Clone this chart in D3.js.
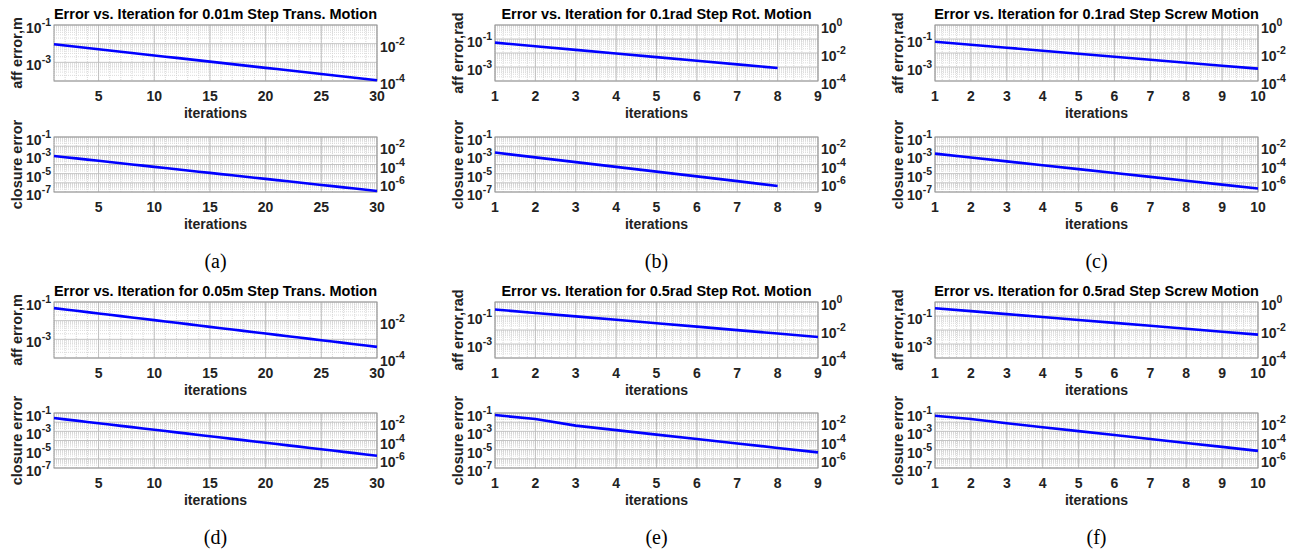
<!DOCTYPE html>
<html>
<head>
<meta charset="utf-8">
<script src="https://cdn.jsdelivr.net/npm/d3@7"></script>
<style>
  body { margin: 0; background: #fff; }
  text { font-family: "Liberation Sans", Arial, Helvetica, sans-serif; }
</style>
</head>
<body>
<div id="chart"></div>
<script>
// titles / labels for the six panels (a)-(f)
const titles = [
  "Error vs. Iteration for 0.01m Step Trans. Motion",
  "Error vs. Iteration for 0.1rad Step Rot. Motion",
  "Error vs. Iteration for 0.1rad Step Screw Motion",
  "Error vs. Iteration for 0.05m Step Trans. Motion",
  "Error vs. Iteration for 0.5rad Step Rot. Motion",
  "Error vs. Iteration for 0.5rad Step Screw Motion"
];
const affLabels = ["aff error,m", "aff error,rad", "aff error,rad", "aff error,m", "aff error,rad", "aff error,rad"];
const closLabel = "closure error";
const xLabel = "iterations";
const captions = ["(a)", "(b)", "(c)", "(d)", "(e)", "(f)"];

// x axes per column
const xDomains = [[1, 30], [1, 9], [1, 10]];
const xTicksTrans = [5, 10, 15, 20, 25, 30];
const xTicksRot = [1, 2, 3, 4, 5, 6, 7, 8, 9];
const xTicksScrew = [1, 2, 3, 4, 5, 6, 7, 8, 9, 10];
const xMinorSteps = [1, 0.2, 0.2];

// y axes (log)
const affDomainM = [1e-4, 1e-1];
const affDomainRad = [1e-4, 1];
const closDomain = [1e-7, 1e-1];
const affLeftTicks = [-1, -3];
const affRightTicksM = [-2, -4];
const affRightTicksRad = [0, -2, -4];
const closLeftTicks = [-1, -3, -5, -7];
const closRightTicks = [-2, -4, -6];

// error values per iteration
const affA = [9.3e-3, 7.98e-3, 6.85e-3, 5.88e-3, 5.04e-3, 4.33e-3, 3.71e-3, 3.18e-3, 2.73e-3, 2.34e-3,
  2.01e-3, 1.73e-3, 1.48e-3, 1.27e-3, 1.09e-3, 9.35e-4, 8.02e-4, 6.88e-4, 5.91e-4, 5.07e-4,
  4.35e-4, 3.73e-4, 3.20e-4, 2.75e-4, 2.36e-4, 2.02e-4, 1.73e-4, 1.49e-4, 1.28e-4, 1.10e-4];
const closA = [8.5e-4, 6.28e-4, 4.64e-4, 3.42e-4, 2.53e-4, 1.87e-4, 1.38e-4, 1.02e-4, 7.52e-5, 5.55e-5,
  4.10e-5, 3.03e-5, 2.24e-5, 1.65e-5, 1.22e-5, 9.0e-6, 6.65e-6, 4.91e-6, 3.63e-6, 2.68e-6,
  1.98e-6, 1.46e-6, 1.08e-6, 7.97e-7, 5.89e-7, 4.35e-7, 3.21e-7, 2.37e-7, 1.75e-7, 1.29e-7];
const affB = [0.055, 0.0303, 0.0167, 9.2e-3, 5.07e-3, 2.79e-3, 1.54e-3, 8.5e-4];
const closB = [2.0e-3, 6.04e-4, 1.82e-4, 5.51e-5, 1.66e-5, 5.02e-6, 1.52e-6, 4.58e-7];
const affC = [0.064, 0.0391, 0.0239, 0.0146, 8.92e-3, 5.45e-3, 3.33e-3, 2.03e-3, 1.24e-3, 7.6e-4];
const closC = [1.55e-3, 5.85e-4, 2.2e-4, 8.3e-5, 3.14e-5, 1.18e-5, 4.46e-6, 1.68e-6, 6.34e-7, 2.39e-7];
const affD = [0.047, 0.0399, 0.0338, 0.0287, 0.0243, 0.0206, 0.0175, 0.0148, 0.0126, 0.0107,
  9.04e-3, 7.66e-3, 6.50e-3, 5.51e-3, 4.67e-3, 3.96e-3, 3.36e-3, 2.85e-3, 2.42e-3, 2.05e-3,
  1.74e-3, 1.47e-3, 1.25e-3, 1.06e-3, 8.99e-4, 7.62e-4, 6.46e-4, 5.48e-4, 4.65e-4, 3.94e-4];
const closD = [0.028, 0.0202, 0.0146, 0.0105, 7.59e-3, 5.47e-3, 3.95e-3, 2.85e-3, 2.06e-3, 1.48e-3,
  1.07e-3, 7.72e-4, 5.57e-4, 4.02e-4, 2.90e-4, 2.09e-4, 1.51e-4, 1.09e-4, 7.86e-5, 5.67e-5,
  4.09e-5, 2.95e-5, 2.13e-5, 1.54e-5, 1.11e-5, 8.0e-6, 5.77e-6, 4.17e-6, 3.01e-6, 2.17e-6];
const affE = [0.29, 0.165, 0.0939, 0.0534, 0.0304, 0.0173, 9.84e-3, 5.6e-3, 3.19e-3];
const closE = [0.06, 0.022, 4.2e-3, 1.36e-3, 4.4e-4, 1.45e-4, 4.8e-5, 1.55e-5, 5.1e-6];
const affF = [0.36, 0.222, 0.137, 0.0846, 0.0522, 0.0322, 0.0199, 0.0123, 7.57e-3, 4.67e-3];
const closF = [0.051, 0.022, 7.6e-3, 2.8e-3, 1.05e-3, 3.9e-4, 1.45e-4, 5.4e-5, 2.0e-5, 7.4e-6];

// layout
const W = 1299, H = 555;
const colLeft = [54, 495, 935];
const plotW = 323;
const affTop = [25, 302], affH = 56;
const closTop = [137, 413], closH = 55;

const svg = d3.select("#chart").append("svg")
  .attr("width", W).attr("height", H);

const txtColor = "#222";

function addPow(sel, e) {
  sel.append("tspan").text("10");
  sel.append("tspan").attr("dy", -7).attr("font-size", 10.5).text(e);
}

function drawSubplot(opt) {
  const x = d3.scaleLinear().domain(opt.xDomain).range([opt.left, opt.left + plotW]);
  const y = d3.scaleLog().domain(opt.yDomain).range([opt.top + opt.h, opt.top]);
  const g = svg.append("g");

  // minor grid
  const minorX = [];
  for (let v = opt.xDomain[0]; v <= opt.xDomain[1] + 1e-9; v += opt.xMinor) minorX.push(+v.toFixed(3));
  g.append("g").selectAll("line").data(minorX).join("line")
    .attr("x1", d => x(d)).attr("x2", d => x(d))
    .attr("y1", opt.top).attr("y2", opt.top + opt.h)
    .attr("stroke", "#cfcfcf").attr("stroke-width", 0.8).attr("stroke-dasharray", "1,1");

  const lo = Math.log10(opt.yDomain[0]), hi = Math.log10(opt.yDomain[1]);
  const minorY = [];
  for (let d = Math.floor(lo); d < Math.ceil(hi); d++) {
    for (let m = 2; m <= 9; m++) {
      const v = m * Math.pow(10, d);
      if (v > opt.yDomain[0] && v < opt.yDomain[1]) minorY.push(v);
    }
  }
  g.append("g").selectAll("line").data(minorY).join("line")
    .attr("x1", opt.left).attr("x2", opt.left + plotW)
    .attr("y1", d => y(d)).attr("y2", d => y(d))
    .attr("stroke", "#d2d2d2").attr("stroke-width", 0.8).attr("stroke-dasharray", "1,1");

  // major grid
  const majorY = d3.range(Math.ceil(lo), Math.floor(hi) + 1).map(e => Math.pow(10, e));
  g.append("g").selectAll("line").data(majorY).join("line")
    .attr("x1", opt.left).attr("x2", opt.left + plotW)
    .attr("y1", d => y(d)).attr("y2", d => y(d))
    .attr("stroke", "#bdbdbd").attr("stroke-width", 0.9);
  g.append("g").selectAll("line").data(opt.xTicks).join("line")
    .attr("x1", d => x(d)).attr("x2", d => x(d))
    .attr("y1", opt.top).attr("y2", opt.top + opt.h)
    .attr("stroke", "#bdbdbd").attr("stroke-width", 0.9);

  // box
  g.append("rect")
    .attr("x", opt.left).attr("y", opt.top)
    .attr("width", plotW).attr("height", opt.h)
    .attr("fill", "none").attr("stroke", "#999").attr("stroke-width", 1);

  // data line
  const line = d3.line().x((d, i) => x(i + 1)).y(d => y(d));
  g.append("path").datum(opt.values)
    .attr("d", line)
    .attr("fill", "none")
    .attr("stroke", "#0000ff")
    .attr("stroke-width", 2.6);

  // x tick labels
  g.append("g").selectAll("text").data(opt.xTicks).join("text")
    .attr("x", d => x(d)).attr("y", opt.top + opt.h + 19.5)
    .attr("text-anchor", "middle")
    .attr("font-size", 14).attr("font-weight", "bold").attr("fill", txtColor)
    .text(d => d);

  // x label
  g.append("text")
    .attr("x", opt.left + plotW / 2).attr("y", opt.top + opt.h + 37)
    .attr("text-anchor", "middle")
    .attr("font-size", 14).attr("font-weight", "bold").attr("fill", txtColor)
    .text(xLabel);

  // left / right y tick labels
  opt.leftTicks.forEach(e => {
    const t = g.append("text")
      .attr("x", opt.left - 3).attr("y", y(Math.pow(10, e)) + 8)
      .attr("text-anchor", "end")
      .attr("font-size", 14).attr("font-weight", "bold").attr("fill", txtColor);
    addPow(t, e);
  });
  opt.rightTicks.forEach(e => {
    const t = g.append("text")
      .attr("x", opt.left + plotW + 3).attr("y", y(Math.pow(10, e)) + 8)
      .attr("text-anchor", "start")
      .attr("font-size", 14).attr("font-weight", "bold").attr("fill", txtColor);
    addPow(t, e);
  });

  // y label
  g.append("text")
    .attr("transform", `translate(${opt.left - 32.5},${opt.top + opt.h / 2}) rotate(-90)`)
    .attr("text-anchor", "middle")
    .attr("font-size", 14.5).attr("font-weight", "bold").attr("fill", txtColor)
    .text(opt.yLabel);

  // title
  if (opt.title) {
    g.append("text")
      .attr("x", opt.left + plotW / 2).attr("y", opt.top - 6)
      .attr("text-anchor", "middle")
      .attr("font-size", 14.5).attr("font-weight", "bold").attr("fill", "#000")
      .text(opt.title);
  }
}

const affData = [affA, affB, affC, affD, affE, affF];
const closData = [closA, closB, closC, closD, closE, closF];
const xTickSets = [xTicksTrans, xTicksRot, xTicksScrew];

for (let p = 0; p < 6; p++) {
  const col = p % 3, row = Math.floor(p / 3);
  const isTrans = col === 0;
  drawSubplot({
    left: colLeft[col], top: affTop[row], h: affH,
    xDomain: xDomains[col], xTicks: xTickSets[col], xMinor: xMinorSteps[col],
    yDomain: isTrans ? affDomainM : affDomainRad,
    leftTicks: affLeftTicks,
    rightTicks: isTrans ? affRightTicksM : affRightTicksRad,
    values: affData[p], yLabel: affLabels[p], title: titles[p]
  });
  drawSubplot({
    left: colLeft[col], top: closTop[row], h: closH,
    xDomain: xDomains[col], xTicks: xTickSets[col], xMinor: xMinorSteps[col],
    yDomain: closDomain,
    leftTicks: closLeftTicks, rightTicks: closRightTicks,
    values: closData[p], yLabel: closLabel, title: null
  });
  svg.append("text")
    .attr("x", colLeft[col] + plotW / 2).attr("y", closTop[row] + closH + 76)
    .attr("text-anchor", "middle")
    .style("font-family", "'Liberation Serif', 'Times New Roman', serif")
    .attr("font-size", 20).attr("fill", "#000")
    .text(captions[p]);
}
</script>
</body>
</html>
